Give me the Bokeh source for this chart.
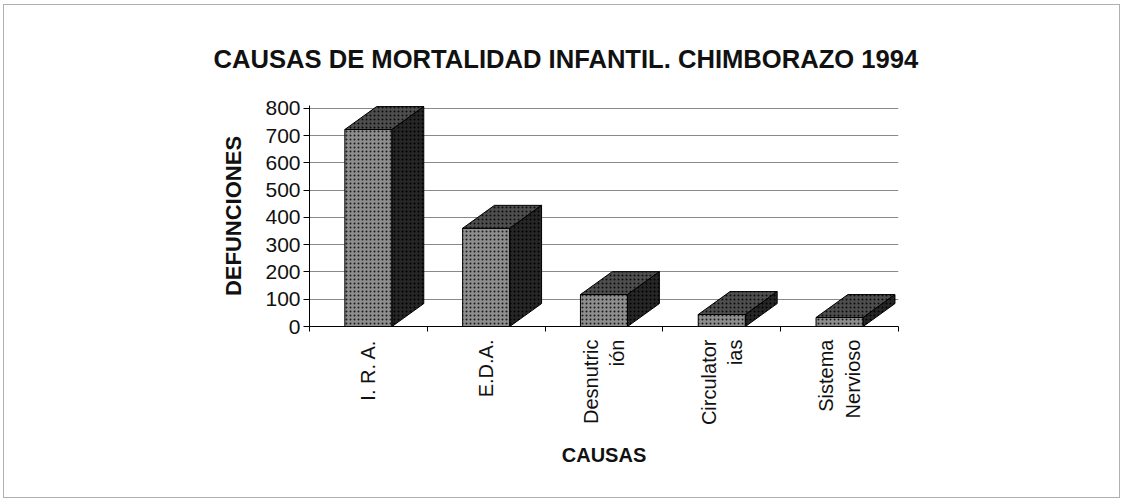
import math
from bokeh.plotting import figure
from bokeh.models import Range1d, FixedTicker, ColumnDataSource
from bokeh.embed import file_html
from bokeh.resources import INLINE

# ---- data ----
causas = ["I. R. A.", "E.D.A.", "Desnutric\nión", "Circulator\nias", "Sistema\nNervioso"]
defunciones = [722, 360, 117, 44, 33]
y_ticks = [0, 100, 200, 300, 400, 500, 600, 700, 800]
titulo = "CAUSAS DE MORTALIDAD INFANTIL. CHIMBORAZO 1994"

# ---- style constants ----
HALF_W = 0.2      # half width of the front face (category units)
DX = 0.27         # 3D depth offset in x (category units)
DY = 84           # 3D depth offset in y (value units)

n = len(causas)
centers = [i + 0.5 for i in range(n)]

p = figure(width=1117, height=494, output_backend="svg", toolbar_location=None,
           x_range=Range1d(0, n), y_range=Range1d(0, 810),
           min_border_left=305, min_border_right=223, min_border_top=100, min_border_bottom=173)
p.styles = {"border": "1px solid #b0b0b0", "margin-left": "3px", "margin-top": "4px"}
p.outline_line_color = None
p.background_fill_color = "white"
p.border_fill_color = "white"

p.title.text = titulo
p.title.align = "left"
p.title.offset = -96
p.title.text_font = "Liberation Sans"
p.title.text_font_size = "25.6px"
p.title.text_font_style = "bold"
p.title.text_color = "#111111"
try:
    p.title.standoff = 66
except Exception:
    try:
        p.title.padding = (0, 0, 66, 0)
    except Exception:
        pass

# front faces
src_front = ColumnDataSource(dict(
    left=[c - HALF_W for c in centers], right=[c + HALF_W for c in centers],
    bottom=[0] * n, top=defunciones))
p.quad(left="left", right="right", bottom="bottom", top="top", source=src_front,
       fill_color="#8e8e8e", hatch_pattern="dot", hatch_color="#1a1a1a", hatch_scale=4,
       hatch_weight=1, line_color="black", line_width=1)

# top and side faces
top_xs, top_ys, side_xs, side_ys = [], [], [], []
for c, v in zip(centers, defunciones):
    l, r = c - HALF_W, c + HALF_W
    top_xs.append([l, r, r + DX, l + DX])
    top_ys.append([v, v, v + DY, v + DY])
    side_xs.append([r, r + DX, r + DX, r])
    side_ys.append([0, DY, v + DY, v])
p.patches(top_xs, top_ys, fill_color="#4e4e4e", hatch_pattern="dot", hatch_color="#0a0a0a",
          hatch_scale=4, hatch_weight=1, line_color="black", line_width=1)
p.patches(side_xs, side_ys, fill_color="#262626", hatch_pattern="dot", hatch_color="#000000",
          hatch_scale=4, hatch_weight=1, line_color="black", line_width=1)

# x axis
p.xaxis.ticker = FixedTicker(ticks=centers, minor_ticks=list(range(n + 1)))
p.xaxis.major_label_overrides = {c: lab for c, lab in zip(centers, causas)}
p.xaxis.major_label_orientation = math.pi / 2
p.xaxis.major_tick_out = 0
p.xaxis.major_tick_in = 0
p.xaxis.minor_tick_out = 5
p.xaxis.minor_tick_in = 0
p.xaxis.minor_tick_line_color = "black"
p.xaxis.axis_line_color = "black"
p.xaxis.major_label_text_font = "Liberation Sans"
p.xaxis.major_label_text_font_size = "20px"
p.xaxis.major_label_text_color = "#111111"
p.xaxis.major_label_standoff = 8
p.xaxis.axis_label = "CAUSAS"
p.xaxis.axis_label_text_font = "Liberation Sans"
p.xaxis.axis_label_text_font_size = "20px"
p.xaxis.axis_label_text_font_style = "bold"
p.xaxis.axis_label_text_color = "#111111"
p.xaxis.axis_label_standoff = 16

# y axis
p.yaxis.ticker = FixedTicker(ticks=y_ticks)
p.yaxis.major_tick_out = 6
p.yaxis.major_tick_in = 0
p.yaxis.minor_tick_line_color = None
p.yaxis.axis_line_color = "black"
p.yaxis.major_label_text_font = "Liberation Sans"
p.yaxis.major_label_text_font_size = "21px"
p.yaxis.major_label_text_color = "#111111"
p.yaxis.major_label_standoff = 3
p.yaxis.axis_label = "DEFUNCIONES"
p.yaxis.axis_label_text_font = "Liberation Sans"
p.yaxis.axis_label_text_font_size = "22px"
p.yaxis.axis_label_text_font_style = "bold"
p.yaxis.axis_label_text_color = "#111111"
p.yaxis.axis_label_standoff = 16

p.xgrid.grid_line_color = None
p.ygrid.ticker = FixedTicker(ticks=y_ticks)
p.ygrid.grid_line_color = "#8a8a8a"
p.ygrid.grid_line_width = 1

open("out.html", "w").write(file_html(p, INLINE))
